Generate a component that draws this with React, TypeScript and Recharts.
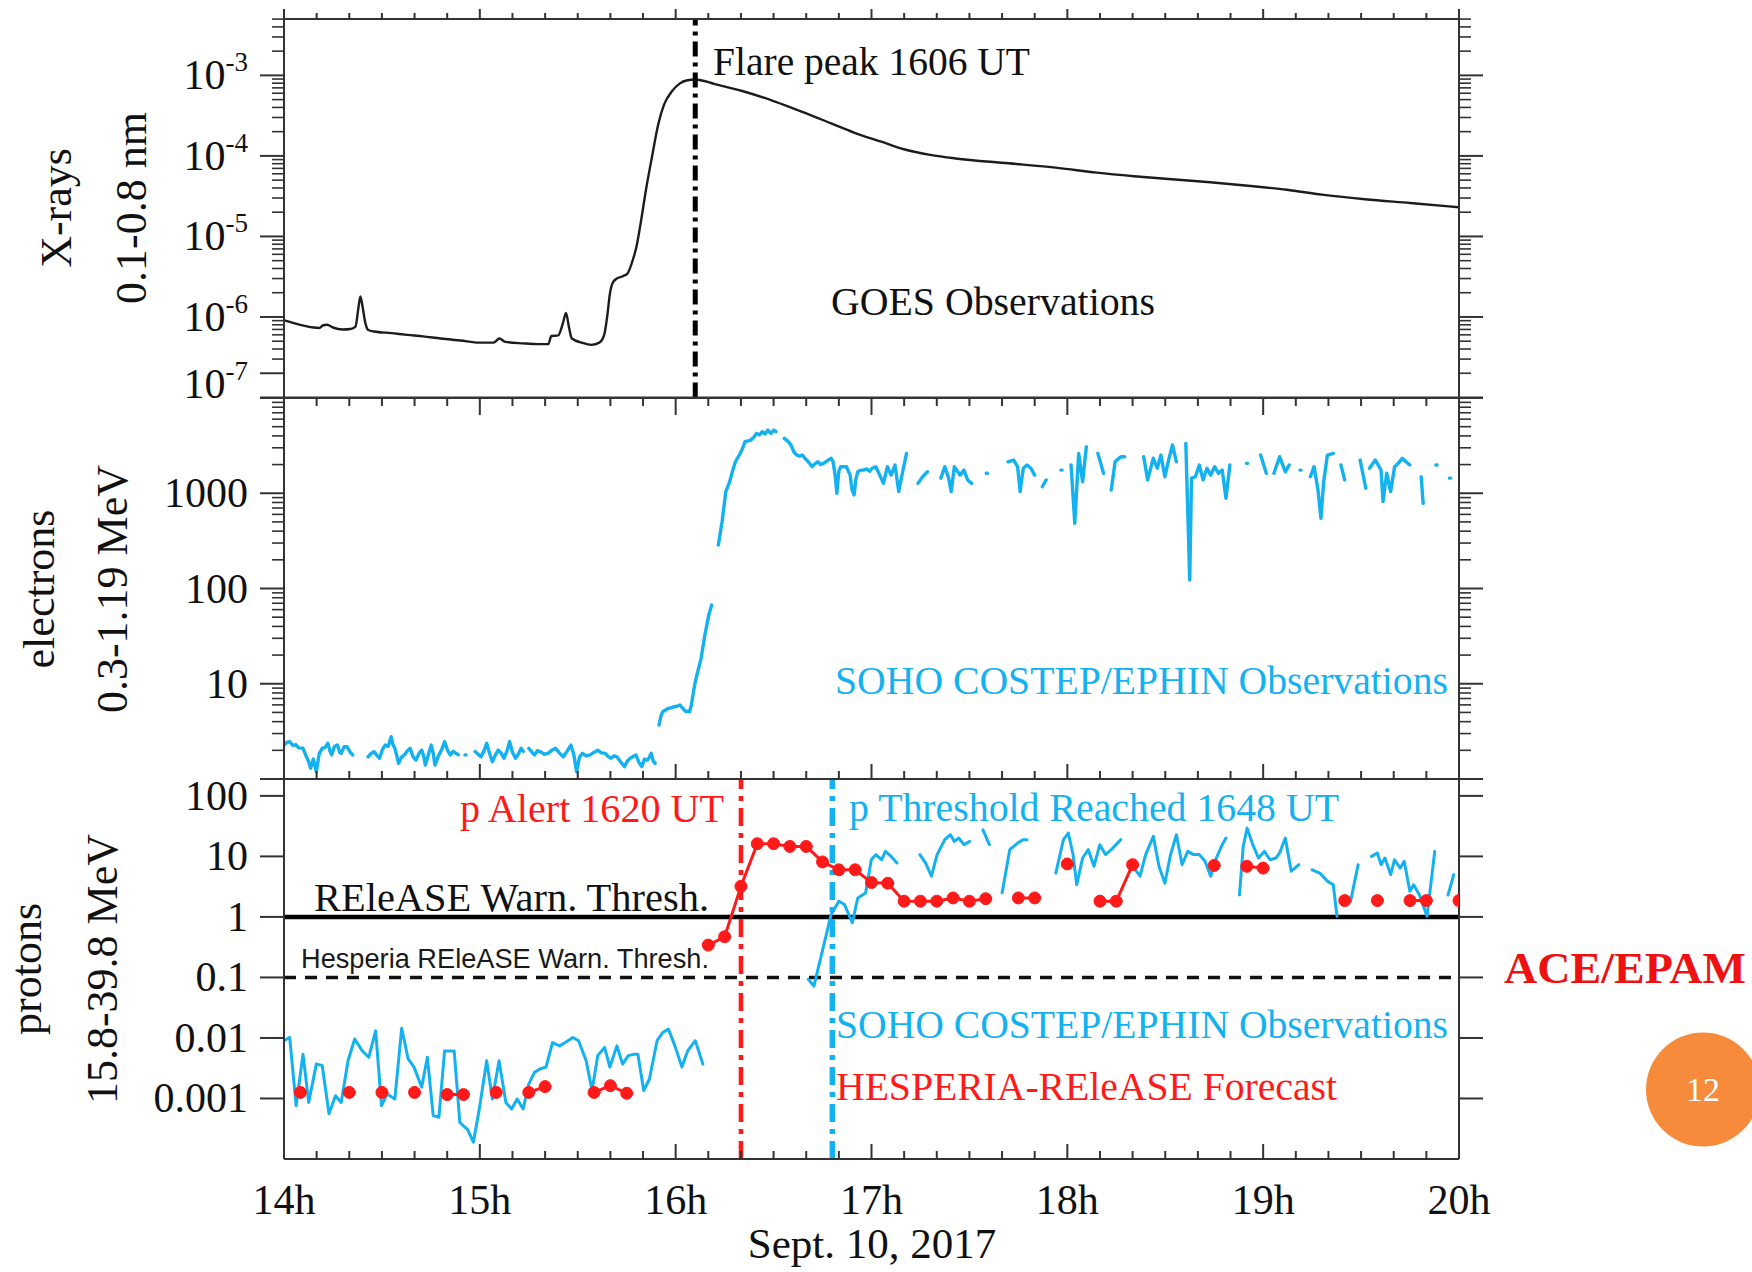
import React from 'react';
import { ComposedChart, Line, XAxis, YAxis, ReferenceLine } from 'recharts';

type Pt = [number, number | null];

// ---------- layout constants ----------
const W = 1752;
const H = 1272;
const PLOT_L = 284;
const PLOT_R = 1459;
const P1_TOP = 19;
const P1_BOTTOM = 397.5;
const P2_TOP = 398;
const P2_BOTTOM = 779;
const P3_TOP = 779;
const P3_BOTTOM = 1159;
const SERIF = '"Liberation Serif", "Times New Roman", serif';
const SANS = '"Liberation Sans", Arial, sans-serif';
const AXIS = '#333333';
const BLUE = '#14B1F0';
const RED = '#FF1A1A';
const INK = '#111111';

// ---------- axes / ticks ----------
const hourTicks = [14, 15, 16, 17, 18, 19, 20];
const xrayMajor = [1e-7, 1e-6, 1e-5, 1e-4, 1e-3];
const electronMajor = [1, 10, 100, 1000, 10000];
const electronLabels = [10, 100, 1000];
const protonMajor = [0.001, 0.01, 0.1, 1, 10, 100];
const protonLabels = ['0.001', '0.01', '0.1', '1', '10', '100'];
const xrayDomain = [1e-7, 5.012e-3];
const electronDomain = [1, 1e4];
const protonDomain = [1e-4, 190];

// ---------- data ----------
const xrayData: Pt[] = [
  [14.0, 9.1e-7], [14.05, 8.4e-7], [14.1, 7.8e-7], [14.15, 7.4e-7], [14.18, 7.3e-7], [14.2, 7.9e-7], [14.22, 8.0e-7],
  [14.25, 7.4e-7], [14.3, 7.0e-7], [14.34, 7.1e-7], [14.365, 7.6e-7], [14.38, 1.3e-6], [14.39, 1.8e-6], [14.4, 1.4e-6],
  [14.415, 8.5e-7], [14.43, 6.9e-7], [14.46, 6.6e-7], [14.55, 6.3e-7], [14.63, 6.0e-7], [14.71, 5.75e-7], [14.8, 5.4e-7],
  [14.9, 5.1e-7], [15.0, 4.8e-7], [15.07, 4.8e-7], [15.1, 5.4e-7], [15.13, 4.9e-7], [15.22, 4.7e-7], [15.3, 4.6e-7],
  [15.35, 4.6e-7], [15.365, 5.8e-7], [15.4, 5.9e-7], [15.425, 8.5e-7], [15.44, 1.12e-6], [15.455, 7.5e-7], [15.47, 5.4e-7],
  [15.52, 4.8e-7], [15.57, 4.5e-7], [15.61, 4.8e-7], [15.635, 6.0e-7], [15.65, 1.0e-6], [15.665, 2.0e-6], [15.68, 2.7e-6],
  [15.7, 3.0e-6], [15.73, 3.2e-6], [15.755, 3.5e-6], [15.78, 5.0e-6], [15.8, 7.5e-6], [15.82, 1.4e-5], [15.85, 4.0e-5],
  [15.88, 1.0e-4], [15.91, 2.4e-4], [15.94, 4.3e-4], [15.98, 6.3e-4], [16.02, 7.9e-4], [16.06, 8.7e-4], [16.1, 8.9e-4],
  [16.2, 7.8e-4], [16.34, 6.4e-4], [16.5, 4.8e-4], [16.65, 3.5e-4], [16.8, 2.5e-4], [16.91, 1.95e-4], [17.05, 1.5e-4],
  [17.17, 1.2e-4], [17.3, 1.03e-4], [17.43, 9.3e-5], [17.7, 8.1e-5], [17.95, 7.1e-5], [18.15, 6.2e-5], [18.34, 5.6e-5],
  [18.55, 5.1e-5], [18.73, 4.7e-5], [18.95, 4.2e-5], [19.12, 3.8e-5], [19.3, 3.3e-5], [19.52, 2.9e-5], [19.75, 2.6e-5],
  [20.0, 2.3e-5],
];

const electronData: Pt[] = [
  [14.0, 2.27], [14.014, 2.42], [14.029, 2.47], [14.045, 2.25], [14.06, 2.3], [14.075, 2.12], [14.097, 2.1], [14.11, 1.8],
  [14.126, 1.52], [14.136, 1.3], [14.15, 1.62], [14.165, 1.19], [14.18, 1.85], [14.195, 2.1], [14.21, 2.15], [14.224, 2.37],
  [14.235, 1.95], [14.243, 1.79], [14.258, 2.2], [14.273, 2.27], [14.285, 1.9], [14.292, 1.86], [14.307, 2.18], [14.322, 2.18],
  [14.337, 1.92], [14.351, 1.79], [14.39, null],
  [14.429, 1.71], [14.444, 1.85], [14.459, 1.94], [14.474, 1.78], [14.488, 1.65], [14.503, 2.05], [14.517, 2.27], [14.532, 2.2],
  [14.547, 2.78], [14.556, 2.3], [14.566, 2.1], [14.576, 1.75], [14.585, 1.46], [14.6, 1.7], [14.615, 1.79], [14.63, 1.98],
  [14.644, 2.1], [14.659, 1.72], [14.674, 1.58], [14.689, 1.85], [14.703, 2.01], [14.713, 1.75], [14.722, 1.4], [14.737, 1.8],
  [14.752, 2.27], [14.762, 1.85], [14.771, 1.4], [14.786, 1.7], [14.8, 1.94], [14.81, 2.15], [14.82, 2.47], [14.835, 2.0],
  [14.849, 1.79], [14.864, 1.95], [14.878, 1.86], [14.89, 1.8], [14.91, null],
  [14.924, 1.79], [14.93, 1.79], [14.95, null],
  [14.976, 1.94], [14.991, 1.82], [15.006, 1.71], [15.02, 1.95], [15.035, 2.37], [15.05, 1.85], [15.064, 1.52], [15.079, 1.78],
  [15.094, 2.01], [15.108, 1.88], [15.123, 1.65], [15.138, 1.95], [15.152, 2.47], [15.167, 1.9], [15.182, 1.65], [15.196, 1.82],
  [15.211, 2.1], [15.222, 1.95], [15.235, null],
  [15.25, 2.1], [15.265, 1.92], [15.279, 1.79], [15.294, 1.98], [15.309, 1.94], [15.328, 1.82], [15.348, 1.86], [15.367, 2.0],
  [15.387, 2.1], [15.406, 1.88], [15.426, 1.71], [15.445, 1.95], [15.465, 2.27], [15.48, 1.8], [15.494, 1.19], [15.509, 1.7],
  [15.524, 1.86], [15.543, 1.75], [15.563, 1.79], [15.582, 1.9], [15.602, 2.01], [15.621, 1.88], [15.641, 1.86], [15.656, 1.72],
  [15.67, 1.65], [15.685, 1.75], [15.7, 1.71], [15.72, 1.5], [15.739, 1.35], [15.754, 1.55], [15.768, 1.65], [15.783, 1.72],
  [15.797, 1.79], [15.812, 1.5], [15.827, 1.35], [15.841, 1.62], [15.856, 1.58], [15.866, 1.7], [15.875, 1.86], [15.885, 1.55],
  [15.895, 1.46], [15.905, null],
  [15.915, 3.69], [15.925, 4.6], [15.934, 5.09], [15.948, 5.3], [15.963, 5.52], [15.978, 5.6], [15.993, 5.74], [16.007, 5.8],
  [16.022, 5.98], [16.037, 5.5], [16.052, 5.09], [16.062, 5.15], [16.071, 5.09], [16.08, 5.98], [16.09, 8.0], [16.1, 10.5],
  [16.115, 14], [16.13, 18.5], [16.149, 32.4], [16.169, 52.6], [16.184, 67], [16.2, null],
  [16.218, 286], [16.237, 502], [16.256, 1038], [16.276, 1322], [16.29, 1700], [16.305, 2140], [16.325, 2520], [16.34, 2900],
  [16.354, 3480], [16.37, 3550], [16.384, 3620], [16.4, 3900], [16.413, 4250], [16.428, 4100], [16.442, 4430], [16.457, 4200],
  [16.471, 4610], [16.486, 4250], [16.501, 4610], [16.512, 4430], [16.53, null],
  [16.555, 3770], [16.575, 3480], [16.589, 3200], [16.604, 2700], [16.618, 2520], [16.633, 2450], [16.647, 2520], [16.662, 2300],
  [16.677, 2140], [16.697, 1900], [16.712, 2050], [16.726, 2140], [16.74, 2000], [16.755, 2060], [16.775, 2200], [16.794, 2330],
  [16.804, 2140], [16.815, 1500], [16.823, 1000], [16.833, 1700], [16.843, 1900], [16.857, 1900], [16.872, 1900], [16.882, 1700],
  [16.891, 1550], [16.9, 1100], [16.911, 960], [16.92, 1400], [16.93, 1680], [16.945, 1750], [16.96, 1750], [16.975, 1800],
  [16.99, 1700], [17.003, 1830], [17.022, 1900], [17.042, 1550], [17.061, 1270], [17.081, 1900], [17.1, 1550], [17.12, 1980],
  [17.139, 1040], [17.159, 1680], [17.179, 2620], [17.2, null],
  [17.237, 1270], [17.262, 1500], [17.286, 1680], [17.32, null],
  [17.354, 1440], [17.374, 1900], [17.394, 1440], [17.407, 1040], [17.423, 1900], [17.452, 1550], [17.472, 1750], [17.491, 1380],
  [17.511, 1270], [17.55, null],
  [17.586, 1620], [17.592, 1620], [17.65, null],
  [17.697, 2140], [17.726, 2230], [17.746, 1900], [17.759, 1040], [17.775, 1830], [17.794, 1980], [17.814, 1830], [17.833, 1550],
  [17.85, null],
  [17.872, 1170], [17.892, 1380], [17.93, null],
  [17.967, 1750], [17.973, 1750], [17.99, null],
  [18.019, 1980], [18.038, 484], [18.058, 2620], [18.078, 1320], [18.097, 3080], [18.12, null],
  [18.156, 2620], [18.185, 1620], [18.2, null],
  [18.224, 1080], [18.244, 2140], [18.273, 2420], [18.293, 2420], [18.34, null],
  [18.39, 2420], [18.41, 1380], [18.439, 2330], [18.459, 1830], [18.478, 2520], [18.498, 1490], [18.517, 2230], [18.537, 3210],
  [18.557, 2140], [18.58, null],
  [18.605, 3340], [18.625, 123], [18.634, 1440], [18.654, 1490], [18.674, 1980], [18.693, 1380], [18.713, 1830], [18.732, 1550],
  [18.752, 1900], [18.772, 1620], [18.791, 1750], [18.81, 885], [18.83, 1980], [18.87, null],
  [18.915, 2060], [18.921, 2060], [18.95, null],
  [18.987, 2520], [19.016, 1620], [19.035, null],
  [19.055, 1620], [19.084, 2420], [19.113, 1680], [19.133, 1980], [19.16, null],
  [19.188, 1750], [19.194, 1750], [19.22, null],
  [19.241, 1490], [19.26, 1900], [19.28, 1080], [19.295, 546], [19.309, 1320], [19.328, 2520], [19.358, 2620], [19.38, null],
  [19.397, 1980], [19.416, 1380], [19.45, null],
  [19.495, 2230], [19.524, 1130], [19.533, null],
  [19.543, 1830], [19.573, 2230], [19.602, 1750], [19.612, 817], [19.631, 1620], [19.651, 1040], [19.671, 1900], [19.69, 2060],
  [19.71, 2330], [19.729, 2140], [19.749, 1980], [19.78, null],
  [19.807, 1490], [19.817, 784], [19.85, null],
  [19.882, 1980], [19.888, 1980], [19.92, null],
  [19.951, 1440], [19.957, 1440],
];

const protonData: Pt[] = [
  [14.0, 0.009], [14.029, 0.0102], [14.062, 0.00076], [14.097, 0.0054], [14.126, 0.00086], [14.165, 0.0037], [14.195, 0.0035],
  [14.23, 0.00056], [14.263, 0.00111], [14.292, 0.00086], [14.327, 0.0042], [14.361, 0.0096], [14.4, 0.0061], [14.433, 0.0048],
  [14.468, 0.0131], [14.498, 0.00076], [14.527, 0.00119], [14.566, 0.00098], [14.601, 0.0145], [14.634, 0.0045], [14.664, 0.0033],
  [14.703, 0.00153], [14.732, 0.0048], [14.762, 0.00052], [14.791, 0.00049], [14.82, 0.0061], [14.869, 0.0061], [14.898, 0.0004],
  [14.937, 0.00031], [14.967, 0.00019], [14.996, 0.00063], [15.035, 0.0042], [15.064, 0.00098], [15.098, 0.0042], [15.133, 0.00086],
  [15.162, 0.00067], [15.191, 0.00098], [15.221, 0.00067], [15.25, 0.00173], [15.279, 0.0027], [15.309, 0.0031], [15.338, 0.0033],
  [15.371, 0.0084], [15.407, 0.0074], [15.436, 0.0084], [15.475, 0.0102], [15.504, 0.009], [15.543, 0.0042], [15.573, 0.00135],
  [15.602, 0.0051], [15.637, 0.007], [15.664, 0.0033], [15.7, 0.0074], [15.729, 0.0037], [15.758, 0.0051], [15.788, 0.0054],
  [15.807, 0.0054], [15.837, 0.00135], [15.866, 0.0021], [15.905, 0.009], [15.934, 0.0123], [15.963, 0.014], [15.996, 0.0074],
  [16.032, 0.0033], [16.061, 0.0061], [16.1, 0.009], [16.139, 0.0037], [16.4, null],
  [16.677, 0.093], [16.706, 0.072], [16.794, 1.1], [16.833, 1.82], [16.862, 1.6], [16.902, 0.8], [16.93, 2.06], [16.97, 2.49],
  [16.999, 8.8], [17.022, 10.7], [17.052, 8.8], [17.071, 12.1], [17.1, 10.0], [17.13, 7.8], [17.19, null],
  [17.247, 10.7], [17.276, 7.8], [17.306, 4.7], [17.335, 10.7], [17.374, 18.9], [17.403, 22.8], [17.423, 17.7], [17.446, 20.1],
  [17.472, 15.6], [17.501, 17.7], [17.53, null],
  [17.569, 27.5], [17.602, 15.6], [17.63, null],
  [17.667, 2.5], [17.706, 12.9], [17.746, 16.6], [17.775, 18.9], [17.794, 18.9], [17.87, null],
  [17.941, 5.3], [17.98, 18.9], [18.005, 24.3], [18.029, 10.7], [18.048, 3.4], [18.078, 9.4], [18.107, 12.9], [18.136, 6.85],
  [18.166, 15.6], [18.195, 10.7], [18.224, 12.9], [18.273, 18.9], [18.31, null],
  [18.341, 6.4], [18.371, 4.7], [18.4, 10.7], [18.439, 21.4], [18.468, 6.85], [18.498, 3.6], [18.527, 10.7], [18.557, 22.8],
  [18.586, 7.3], [18.615, 12.1], [18.644, 10.7], [18.674, 10.7], [18.703, 8.3], [18.732, 4.7], [18.761, 9.4], [18.791, 15.6],
  [18.81, 20.1], [18.845, null],
  [18.879, 2.3], [18.898, 14.6], [18.918, 29.3], [18.947, 15.6], [18.976, 9.4], [19.006, 12.1], [19.035, 8.8], [19.065, 9.4],
  [19.084, 11.4], [19.113, 20.1], [19.143, 5.7], [19.162, 6.4], [19.182, 7.3], [19.22, null],
  [19.25, 6.0], [19.289, 5.3], [19.328, 3.9], [19.358, 3.4], [19.377, 1.03], [19.41, null],
  [19.446, 1.8], [19.485, 7.3], [19.52, null],
  [19.553, 10.0], [19.583, 11.4], [19.602, 7.3], [19.622, 9.4], [19.651, 5.0], [19.671, 8.8], [19.7, 6.4], [19.72, 8.3],
  [19.749, 2.65], [19.768, 3.4], [19.798, 2.3], [19.837, 1.03], [19.876, 12.1], [19.91, null],
  [19.944, 2.3], [19.973, 5.0],
];

const forecastData: Pt[] = [
  [14.0833, 0.00126], [14.1667, null], [14.3333, 0.00126], [14.4167, null], [14.5, 0.00126], [14.5833, null],
  [14.6667, 0.00126], [14.75, null], [14.8333, 0.00116], [14.9167, 0.00116], [15.0, null], [15.0833, 0.00126],
  [15.1667, null], [15.25, 0.00126], [15.3333, 0.00157], [15.4167, null], [15.5833, 0.00126], [15.6667, 0.00163],
  [15.75, 0.00122], [15.9, null],
  [16.1667, 0.342], [16.25, 0.47], [16.3333, 3.2], [16.4167, 16.2], [16.5, 16.2], [16.5833, 14.6], [16.6667, 14.6],
  [16.75, 8.1], [16.8333, 6.0], [16.9167, 6.0], [17.0, 3.7], [17.0833, 3.6], [17.1667, 1.82], [17.25, 1.82],
  [17.3333, 1.82], [17.4167, 2.06], [17.5, 1.82], [17.5833, 2.0], [17.6667, null], [17.75, 2.06], [17.8333, 2.06],
  [17.9167, null], [18.0, 7.5], [18.0833, null], [18.1667, 1.82], [18.25, 1.82], [18.3333, 7.3], [18.4167, null],
  [18.75, 7.1], [18.8333, null], [18.9167, 6.85], [19.0, 6.4], [19.0833, null], [19.4167, 1.86], [19.5, null],
  [19.5833, 1.86], [19.6667, null], [19.75, 1.86], [19.8333, 1.86], [19.9167, null], [20.0, 1.86],
];

const flarePeak = 16.1;
const alertTime = 16 + 20 / 60;
const thresholdTime = 16 + 48 / 60;
const warnThreshold = 1;
const hesperiaThreshold = 0.1;

// ---------- helpers ----------
const toRows = (d: Pt[]) => d.map(([t, v]) => ({ t, v }));
const xTicks = hourTicks.flatMap((h, i) =>
  i === hourTicks.length - 1 ? [h] : [0, 1, 2, 3, 4, 5].map((k) => h + k / 6)
);
const logTicks = (majors: number[], top: number) => {
  const out: number[] = [];
  majors.forEach((m) => {
    out.push(m);
    for (let k = 2; k <= 9; k++) {
      const t = +(k * m).toPrecision(4);
      if (t <= top) out.push(t);
    }
  });
  return out.sort((a, b) => a - b);
};
const xrayTicks = logTicks(xrayMajor, xrayDomain[1]);
const electronTicks = logTicks(electronMajor, electronDomain[1]);

const AXLINE = { stroke: AXIS, strokeWidth: 2 };

const isPow10 = (v: number) => {
  const lg = Math.log10(v);
  return Math.abs(lg - Math.round(lg)) < 1e-6;
};

const xTickFactory = (dir: number, majorLen: number, minorLen: number, withLabel: boolean) => (p: any) => {
  const v = Number(p.payload?.value);
  const major = Math.abs(v - Math.round(v)) < 1e-6;
  const len = major ? majorLen : minorLen;
  return (
    <g>
      <line x1={p.x} x2={p.x} y1={p.y} y2={p.y + dir * len} stroke={AXIS} strokeWidth={2} />
      {withLabel && major ? (
        <text x={p.x} y={p.y + 55} textAnchor="middle" fontFamily={SERIF} fontSize={42} fill={INK}>
          {`${Math.round(v)}h`}
        </text>
      ) : null}
    </g>
  );
};

type LabelFn = (v: number, x: number, y: number) => React.ReactNode;

const yTickFactory = (side: 'left' | 'right', longTicks: number[], label: LabelFn | null) => (p: any) => {
  const v = Number(p.payload?.value);
  const long = isPow10(v) || longTicks.some((t) => Math.abs(t - v) / t < 1e-6);
  const len = long ? 24 : 12;
  const dir = side === 'left' ? -1 : 1;
  return (
    <g>
      <line x1={p.x} x2={p.x + dir * len} y1={p.y} y2={p.y} stroke={AXIS} strokeWidth={long ? 2 : 1.6} />
      {label ? label(v, p.x, p.y) : null}
    </g>
  );
};

const xrayLabel: LabelFn = (v, x, y) => {
  if (!isPow10(v)) return null;
  const exp = Math.round(Math.log10(v));
  const shift = exp === -7 ? -14 : 0;
  return (
    <text x={x - 36} y={y + 14 + shift} textAnchor="end" fontFamily={SERIF} fontSize={42} fill={INK}>
      10
      <tspan dy={-18} fontSize={27}>
        {String(exp)}
      </tspan>
    </text>
  );
};

const electronLabel: LabelFn = (v, x, y) => {
  if (!electronLabels.some((l) => Math.abs(l - v) < 1e-9)) return null;
  return (
    <text x={x - 36} y={y + 14} textAnchor="end" fontFamily={SERIF} fontSize={42} fill={INK}>
      {String(v)}
    </text>
  );
};

const protonLabel: LabelFn = (v, x, y) => {
  const i = protonMajor.findIndex((m) => Math.abs(m - v) / m < 1e-6);
  if (i < 0) return null;
  return (
    <text x={x - 36} y={y + 14} textAnchor="end" fontFamily={SERIF} fontSize={42} fill={INK}>
      {protonLabels[i]}
    </text>
  );
};

const abs: React.CSSProperties = { position: 'absolute', left: 0, top: 0 };

const common = {
  dot: false as const,
  activeDot: false as const,
  isAnimationActive: false,
  connectNulls: false,
  xAxisId: 'b',
  yAxisId: 'l',
  strokeLinejoin: 'round' as const,
  strokeLinecap: 'round' as const,
};

export default function App() {
  // axes are 1px thick so that Recharts renders them; margins compensate
  const margin = (top: number, bottom: number) => ({
    top: top - 1,
    bottom: H - bottom - 1,
    left: PLOT_L - 1,
    right: W - PLOT_R - 1,
  });
  const xAxisBase = {
    dataKey: 't',
    type: 'number' as const,
    domain: [14, 20],
    allowDataOverflow: true,
    height: 1,
    axisLine: AXLINE,
    tickLine: false,
    ticks: xTicks,
    interval: 0,
    tickSize: 0,
    tickMargin: 0,
  };
  const yAxisBase = {
    scale: 'log' as const,
    type: 'number' as const,
    allowDataOverflow: true,
    width: 1,
    axisLine: AXLINE,
    tickLine: false,
    interval: 0,
    tickSize: 0,
    tickMargin: 0,
  };

  return (
    <div style={{ position: 'absolute', left: 0, top: 0, width: W, height: H, background: '#fff', overflow: 'hidden' }}>
      {/* Panel 1: GOES X-rays */}
      <div style={abs}>
        <ComposedChart width={W} height={H} margin={margin(P1_TOP, P1_BOTTOM)}>
          <XAxis xAxisId="b" orientation="bottom" {...xAxisBase} tick={false} />
          <XAxis xAxisId="t" orientation="top" {...xAxisBase} tick={xTickFactory(-1, 10, 6, false)} />
          <YAxis yAxisId="l" orientation="left" {...yAxisBase} domain={xrayDomain} ticks={xrayTicks}
            tick={yTickFactory('left', [2e-7], xrayLabel)} />
          <YAxis yAxisId="r" orientation="right" {...yAxisBase} domain={xrayDomain} ticks={xrayTicks}
            tick={yTickFactory('right', [], null)} />
          <Line {...common} data={toRows(xrayData)} dataKey="v" type="monotone" stroke="#1c1c1c" strokeWidth={2.4} />
          <ReferenceLine xAxisId="b" yAxisId="l" x={flarePeak} stroke="#000" strokeWidth={5} strokeDasharray="15 6 4 6" />
        </ComposedChart>
      </div>

      {/* Panel 2: electrons */}
      <div style={abs}>
        <ComposedChart width={W} height={H} margin={margin(P2_TOP, P2_BOTTOM)}>
          <XAxis xAxisId="b" orientation="bottom" {...xAxisBase} tick={xTickFactory(-1, 15, 8, false)} />
          <XAxis xAxisId="t" orientation="top" {...xAxisBase} tick={xTickFactory(1, 17, 8, false)} />
          <YAxis yAxisId="l" orientation="left" {...yAxisBase} domain={electronDomain} ticks={electronTicks}
            tick={yTickFactory('left', [], electronLabel)} />
          <YAxis yAxisId="r" orientation="right" {...yAxisBase} domain={electronDomain} ticks={electronTicks}
            tick={yTickFactory('right', [], null)} />
          <Line {...common} data={toRows(electronData)} dataKey="v" type="linear" stroke={BLUE} strokeWidth={3.4} />
        </ComposedChart>
      </div>

      {/* Panel 3: protons */}
      <div style={abs}>
        <ComposedChart width={W} height={H} margin={margin(P3_TOP, P3_BOTTOM)}>
          <XAxis xAxisId="b" orientation="bottom" {...xAxisBase} tick={xTickFactory(-1, 15, 8, true)} />
          <XAxis xAxisId="t" orientation="top" {...xAxisBase} tick={false} />
          <YAxis yAxisId="l" orientation="left" {...yAxisBase} domain={protonDomain} ticks={protonMajor}
            tick={yTickFactory('left', [], protonLabel)} />
          <YAxis yAxisId="r" orientation="right" {...yAxisBase} domain={protonDomain} ticks={protonMajor}
            tick={yTickFactory('right', [], null)} />
          <ReferenceLine xAxisId="b" yAxisId="l" y={hesperiaThreshold} stroke="#111" strokeWidth={3.5} strokeDasharray="12 9" />
          <ReferenceLine xAxisId="b" yAxisId="l" y={warnThreshold} stroke="#000" strokeWidth={4.5} />
          <Line {...common} data={toRows(protonData)} dataKey="v" type="linear" stroke={BLUE} strokeWidth={3} />
          <Line {...common} data={toRows(forecastData)} dataKey="v" type="linear" stroke={RED} strokeWidth={3}
            dot={{ r: 6, fill: RED, stroke: RED, strokeWidth: 1 }} />
          <ReferenceLine xAxisId="b" yAxisId="l" x={alertTime} stroke={RED} strokeWidth={4.5} strokeDasharray="18 7 5 7" />
          <ReferenceLine xAxisId="b" yAxisId="l" x={thresholdTime} stroke={BLUE} strokeWidth={5.5} strokeDasharray="18 7 5 7" />
        </ComposedChart>
      </div>

      {/* Annotations */}
      <svg width={W} height={H} style={{ ...abs, pointerEvents: 'none' }}>
        <g fontFamily={SERIF} fill={INK}>
          <text transform="translate(71,208) rotate(-90)" textAnchor="middle" fontSize={44}>X-rays</text>
          <text transform="translate(146,208) rotate(-90)" textAnchor="middle" fontSize={44}>0.1-0.8 nm</text>
          <text transform="translate(54,589) rotate(-90)" textAnchor="middle" fontSize={44}>electrons</text>
          <text transform="translate(127,589) rotate(-90)" textAnchor="middle" fontSize={44}>0.3-1.19 MeV</text>
          <text transform="translate(41,969) rotate(-90)" textAnchor="middle" fontSize={44}>protons</text>
          <text transform="translate(117,969) rotate(-90)" textAnchor="middle" fontSize={44}>15.8-39.8 MeV</text>

          <text x={713} y={75} fontSize={40} textLength={317} lengthAdjust="spacingAndGlyphs">Flare peak 1606 UT</text>
          <text x={831} y={315} fontSize={39} textLength={324} lengthAdjust="spacingAndGlyphs">GOES Observations</text>
          <text x={835} y={694} fontSize={39.5} fill={BLUE} textLength={613} lengthAdjust="spacingAndGlyphs">
            SOHO COSTEP/EPHIN Observations
          </text>
          <text x={460} y={822} fontSize={40} fill={RED} textLength={264} lengthAdjust="spacingAndGlyphs">p Alert 1620 UT</text>
          <text x={849} y={821} fontSize={39} fill={BLUE} textLength={490} lengthAdjust="spacingAndGlyphs">
            p Threshold Reached 1648 UT
          </text>
          <text x={314} y={911} fontSize={40} textLength={395} lengthAdjust="spacingAndGlyphs">REleASE Warn. Thresh.</text>
          <text x={301} y={968} fontSize={27} fontFamily={SANS} fill="#1a1a1a" textLength={408} lengthAdjust="spacingAndGlyphs">
            Hesperia REleASE Warn. Thresh.
          </text>
          <text x={836} y={1038} fontSize={39.5} fill={BLUE} textLength={612} lengthAdjust="spacingAndGlyphs">
            SOHO COSTEP/EPHIN Observations
          </text>
          <text x={836} y={1100} fontSize={39.5} fill={RED} textLength={501} lengthAdjust="spacingAndGlyphs">
            HESPERIA-REleASE Forecast
          </text>
          <text x={1504} y={983} fontSize={45} fontWeight={700} fill="#EE1111" textLength={242} lengthAdjust="spacingAndGlyphs">
            ACE/EPAM
          </text>
          <text x={872} y={1258} fontSize={43} textAnchor="middle">Sept. 10, 2017</text>
        </g>
        <circle cx={1703} cy={1089.5} r={57} fill="#F68B3B" />
        <text x={1703} y={1101} textAnchor="middle" fontFamily={SERIF} fontSize={34} fill="#fff">12</text>
      </svg>
    </div>
  );
}
